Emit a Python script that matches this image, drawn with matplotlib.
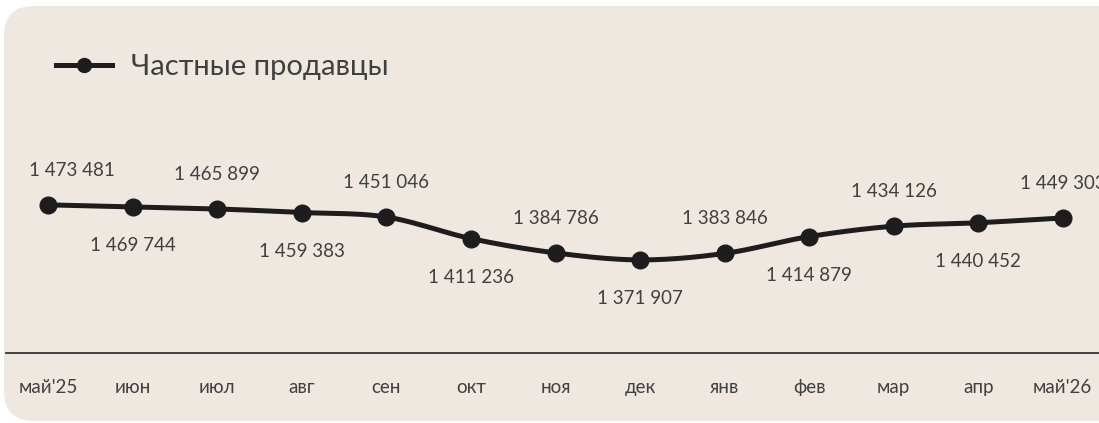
import matplotlib
matplotlib.use("Agg")
import matplotlib.pyplot as plt
from matplotlib.patches import FancyBboxPatch
from matplotlib.lines import Line2D
import numpy as np

# data
months = ["май'25", "июн", "июл", "авг", "сен", "окт", "ноя",
          "дек", "янв", "фев", "мар", "апр", "май'26"]
sellers = [1473481, 1469744, 1465899, 1459383, 1451046, 1411236, 1384786,
           1371907, 1383846, 1414879, 1434126, 1440452, 1449303]
series_name = "Частные продавцы"

plt.rcParams['font.family'] = ['Lato', 'DejaVu Sans']
txt_color = '#404040'
line_color = '#1f1c1e'
bg = '#eee8e1'

W, H = 1099, 423
fig = plt.figure(figsize=(W / 100, H / 100), dpi=100)
fig.patch.set_facecolor('white')

# rounded background card (inches)
card = FancyBboxPatch((0.04, 0.02), 12.0, 4.15,
                      boxstyle="round,pad=0,rounding_size=0.3",
                      transform=fig.dpi_scale_trans, facecolor=bg,
                      edgecolor='none', zorder=-10)
fig.patches.append(card)

ax = fig.add_axes([6 / W, 1 - 353 / H, 1099 / W, 325 / H])
ax.set_facecolor('none')
ax.set_xlim(-0.5, 12.5)
ax.set_ylim(1200000, 1800000)

x = np.arange(len(sellers))
y = np.array(sellers, dtype=float)


def catmull(xs, ys, n=20):
    # smooth line like excel's "smoothed line"
    px = np.concatenate([[2 * xs[0] - xs[1]], xs, [2 * xs[-1] - xs[-2]]])
    py = np.concatenate([[2 * ys[0] - ys[1]], ys, [2 * ys[-1] - ys[-2]]])
    ox, oy = [], []
    for i in range(1, len(px) - 2):
        t = np.linspace(0, 1, n, endpoint=False)
        for arr, out in ((px, ox), (py, oy)):
            p0, p1, p2, p3 = arr[i - 1], arr[i], arr[i + 1], arr[i + 2]
            out.extend(0.5 * (2 * p1 + (-p0 + p2) * t
                              + (2 * p0 - 5 * p1 + 4 * p2 - p3) * t ** 2
                              + (-p0 + 3 * p1 - 3 * p2 + p3) * t ** 3))
    ox.append(xs[-1])
    oy.append(ys[-1])
    return np.array(ox), np.array(oy)


sx, sy = catmull(x.astype(float), y)
ax.plot(sx, sy, color=line_color, lw=3.6, solid_capstyle='round', zorder=3,
        clip_on=False)
ax.plot(x, y, 'o', color=line_color, ms=12, zorder=4, clip_on=False)

for i, v in enumerate(sellers):
    lab = f"{v:,}".replace(",", " ")
    off = 25 if i % 2 == 0 else -28
    dx = 17 if i == 0 else 0   # first label is pushed inside the card
    ax.annotate(lab, (i, v), xytext=(dx, off), textcoords='offset points',
                ha='center', va='center', fontsize=13.5, color=txt_color,
                annotation_clip=False)

for s in ['top', 'right', 'left']:
    ax.spines[s].set_visible(False)
ax.spines['bottom'].set_color('#333333')
ax.spines['bottom'].set_linewidth(1.3)
ax.set_yticks([])
ax.set_xticks(x)
ax.set_xticklabels(months, fontsize=13.5, color=txt_color)
ax.tick_params(axis='x', length=0, pad=19)

# legend
leg_handle = Line2D([], [], color=line_color, lw=3.6, marker='o', ms=10)
fig.legend([leg_handle], [series_name], loc='center left',
           bbox_to_anchor=(30 / W, 1 - 67 / H), frameon=False,
           fontsize=21, labelcolor=txt_color, handlelength=1.9,
           handletextpad=0.65)

fig.savefig("out.png", dpi=100)
